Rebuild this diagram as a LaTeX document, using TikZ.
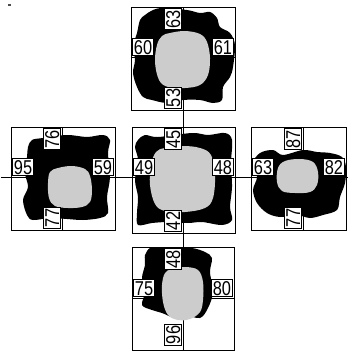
\documentclass[tikz,border=0pt]{standalone}
\usepackage{fontspec}
\newfontfamily\lblfont[FakeStretch=0.82]{Liberation Sans}
\begin{document}
\begin{tikzpicture}[x=1pt,y=-1pt,
  frame/.style={draw=black,line width=0.7pt},
  axis/.style={draw=black,line width=0.7pt},
  blob/.style={fill=black},
  core/.style={fill=gray!40!white,draw=none},
  lab/.style={draw=black,fill=white,line width=0.6pt,inner xsep=1.6pt,inner ysep=1.6pt,
    text height=14.5pt,text depth=0pt,font=\lblfont\fontsize{20pt}{20pt}\selectfont},
  vlab/.style={lab,rotate=90}]
\useasboundingbox (0,0) rectangle (348,351);
\fill[black!70] (8,4) rectangle (11,6);
% frames
\draw[frame] (131,7) rectangle (235,110);
\draw[frame] (11,127) rectangle (115,230);
\draw[frame] (132,127) rectangle (235,233);
\draw[frame] (251,127) rectangle (346,230);
\draw[frame] (132,247) rectangle (234,350);
% axes
\coordinate (vt) at (183,7); \coordinate (vb) at (183,350);
\coordinate (hl) at (1,177); \coordinate (hr) at (348,177);
\draw[axis] (vt) -- (vb);
\draw[axis] (hl) -- (hr);
\draw[axis] (131,57) -- (235,57);
\draw[axis] (132,298) -- (234,298);
\draw[axis] (62,127) -- (62,230);
\draw[axis] (303,127) -- (303,230);
% blobs
\fill[blob] plot[smooth cycle,tension=0.55] coordinates {(145,15) (153,10) (163,8) (187,10) (200,13) (210,12) (217,18) (220,27) (230,33) (235,45) (233,67) (230,77) (223,87) (222,100) (213,103) (200,100) (183,100) (167,103) (152,100) (143,97) (137,87) (133,73) (135,60) (133,47) (137,33) (140,20)};
\fill[blob] plot[smooth cycle,tension=0.55] coordinates {(32,140) (43,138) (67,135) (87,137) (103,135) (110,140) (108,153) (110,177) (107,197) (108,213) (100,218) (83,220) (67,219) (50,218) (33,220) (27,215) (23,200) (28,187) (25,173) (27,157) (28,147)};
\fill[blob] plot[smooth cycle,tension=0.55] coordinates {(138,140) (145,135) (158,137) (192,133) (208,135) (225,133) (232,140) (231,163) (232,187) (230,207) (232,220) (222,225) (202,222) (188,223) (168,222) (152,223) (138,225) (137,213) (138,197) (135,180) (138,160) (135,147)};
\fill[blob] plot[smooth cycle,tension=0.55] coordinates {(260,153) (273,150) (283,155) (303,150) (317,152) (330,153) (342,157) (346,167) (345,183) (340,197) (337,210) (323,215) (310,218) (297,215) (280,217) (267,213) (257,203) (253,190) (257,177) (253,163)};
\fill[blob] plot[smooth cycle,tension=0.55] coordinates {(150,248) (158,248) (172,247) (192,248) (205,252) (212,258) (210,272) (213,292) (208,308) (200,318) (185,315) (175,318) (162,313) (152,310) (142,305) (145,292) (142,278) (145,265) (145,255)};
% cores
\fill[core] plot[smooth cycle,tension=0.6] coordinates {(170,33) (185,31) (200,34) (207,42) (210,58) (208,75) (200,85) (185,88) (168,87) (159,80) (155,62) (157,45) (162,36)};
\fill[core] plot[smooth cycle,tension=0.6] coordinates {(58,168) (72,166) (85,169) (90,176) (92,190) (90,202) (82,207) (68,208) (55,206) (49,198) (48,183) (50,172)};
\fill[core] plot[smooth cycle,tension=0.6] coordinates {(165,148) (183,146) (200,148) (211,155) (215,175) (213,198) (205,208) (185,212) (165,211) (155,204) (150,185) (151,165) (156,152)};
\fill[core] plot[smooth cycle,tension=0.6] coordinates {(285,161) (300,159) (313,162) (318,172) (317,185) (310,192) (295,193) (282,191) (277,182) (278,168)};
\fill[core] plot[smooth cycle,tension=0.6] coordinates {(172,269) (185,267) (198,270) (203,282) (203,300) (200,312) (190,319) (178,320) (168,315) (163,302) (162,285) (165,273)};
% labels: top panel
\node[vlab,anchor=south east] (t1) at (182,8) {63};
\node[vlab,anchor=south west] (t2) at (182,109) {53};
\node[lab,anchor=south west] (t3) at (132,56) {60};
\node[lab,anchor=south east] (t4) at (234,56) {61};
% left panel
\node[vlab,anchor=south east] (l1) at (61,128) {76};
\node[vlab,anchor=south west] (l2) at (61,229) {77};
\node[lab,anchor=south west] (l3) at (12,176) {95};
\node[lab,anchor=south east] (l4) at (114,176) {59};
% centre panel
\node[vlab,anchor=south east] (c1) at (182,128) {45};
\node[vlab,anchor=south west] (c2) at (182,232) {42};
\node[lab,anchor=south west] (c3) at (133,176) {49};
\node[lab,anchor=south east] (c4) at (234,176) {48};
% right panel
\node[vlab,anchor=south east] (r1) at (302,128) {87};
\node[vlab,anchor=south west] (r2) at (302,229) {77};
\node[lab,anchor=south west] (r3) at (252,176) {63};
\node[lab,anchor=south east] (r4) at (345,176) {82};
% bottom panel
\node[vlab,anchor=south east] (b1) at (182,248) {48};
\node[vlab,anchor=south west] (b2) at (182,346) {96};
\node[lab,anchor=south west] (b3) at (133,297) {75};
\node[lab,anchor=south east] (b4) at (233,297) {80};
\end{tikzpicture}
\end{document}
